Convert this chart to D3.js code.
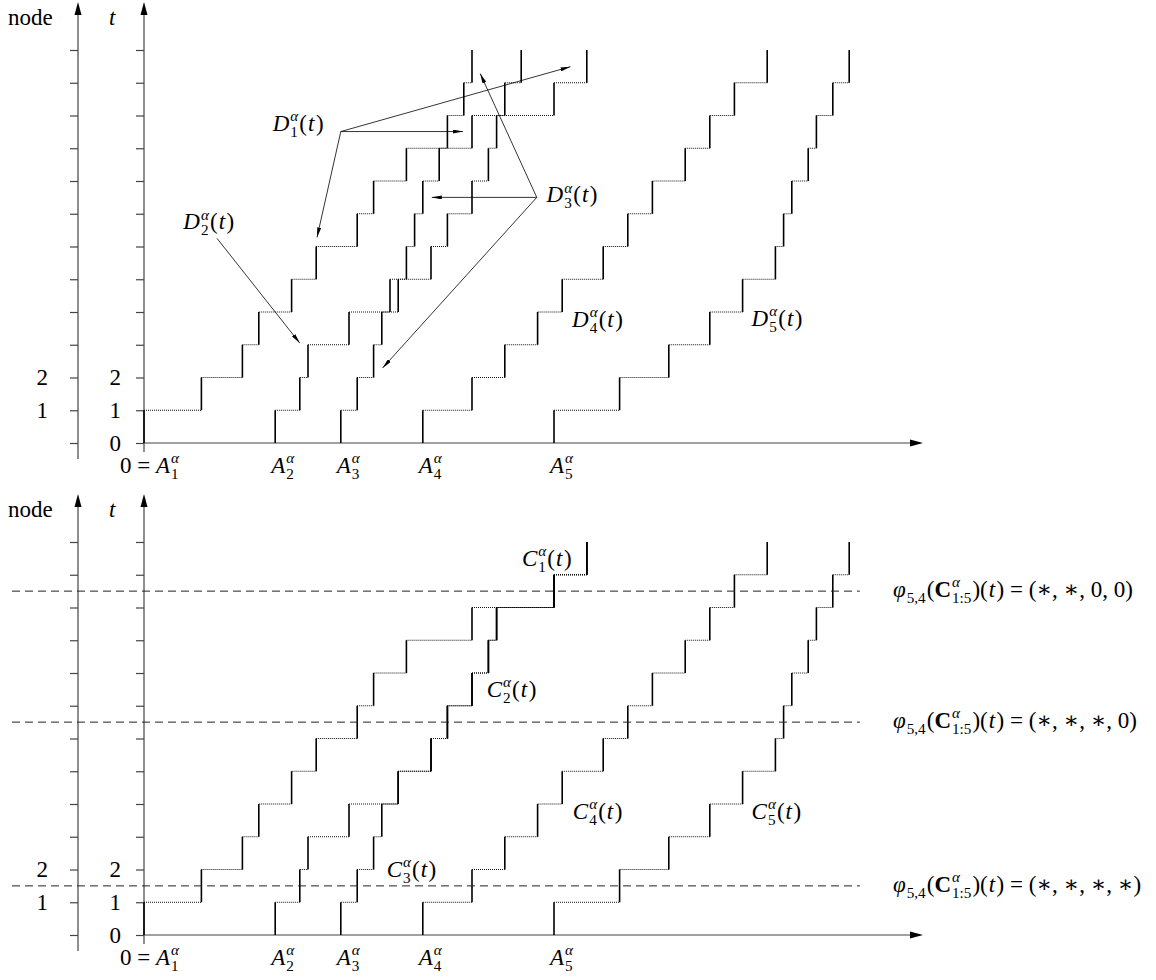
<!DOCTYPE html>
<html>
<head>
<meta charset="utf-8">
<script src="https://cdn.jsdelivr.net/npm/d3@7"></script>
<style>
  body { margin: 0; background: #fff; }
  text { font-family: "Liberation Serif", "DejaVu Serif", serif; fill: #000; white-space: pre; }
</style>
</head>
<body>
<svg id="chart" width="1156" height="980"></svg>
<script>
// Step times of each staircase: value k is where the step from level k to k+1 happens
const depD1 = [0, 7, 12, 14, 18, 21, 26, 28, 32, 40, 50, 54];
const depD2 = [16, 19, 20, 25, 31, 35, 37, 40, 42, 43, 44, 46];
const depD3 = [24, 26, 28, 29, 30, 32, 33, 34, 36, 37, 39, 40];
const depD4 = [34, 40, 44, 48, 51, 56, 59, 62, 66, 69, 72, 76];
const depD5 = [50, 58, 64, 69, 73, 77, 78, 79, 81, 82, 84, 86];

const depC1 = [0, 7, 12, 14, 18, 21, 26, 28, 32, 40, 50, 54];
const depC2 = [16, 19, 20, 25, 31, 35, 37, 40, 42, 43, 50, 54];
const depC3 = [24, 26, 28, 29, 31, 35, 37, 40, 42, 43, 50, 54];
const depC4 = [34, 40, 44, 48, 51, 56, 59, 62, 66, 69, 72, 76];
const depC5 = [50, 58, 64, 69, 73, 77, 78, 79, 81, 82, 84, 86];

const levels = d3.range(13);          // ticks 0..12
const tLabels = [0, 1, 2];
const nodeLabels = [1, 2];

// label anchors in data units (time u, level t)
const labelsD = [
  { i: '1', u: 15.7, t: 9.54 }, { i: '2', u: 4.8, t: 6.52 }, { i: '3', u: 49.1, t: 7.35 },
  { i: '4', u: 52.2, t: 3.54 }, { i: '5', u: 74.1, t: 3.57 }
];
const labelsC = [
  { i: '1', u: 46.1, t: 11.27 }, { i: '2', u: 41.8, t: 7.27 }, { i: '3', u: 29.6, t: 1.77 },
  { i: '4', u: 52.3, t: 3.54 }, { i: '5', u: 74.1, t: 3.54 }
];

// annotation arrows (from label anchor to the staircase)
const arrowsD = [
  { from: [24.0, 9.51], to: [21.1, 6.28] },
  { from: [24.0, 9.51], to: [38.9, 9.51] },
  { from: [24.0, 9.51], to: [52.0, 11.49] },
  { from: [8.9, 6.25], to: [19.0, 3.05] },
  { from: [47.9, 7.5], to: [35.1, 7.5] },
  { from: [47.9, 7.5], to: [41.0, 11.28] },
  { from: [47.9, 7.5], to: [29.1, 2.29] }
];

// threshold levels and their labels in the lower panel
const cutLevels = [10.5, 6.5, 1.5];
const cutTuples = ['(∗, ∗, 0, 0)', '(∗, ∗, ∗, 0)', '(∗, ∗, ∗, ∗)'];

const svg = d3.select('#chart');
const FS = 23;
const x = d3.scaleLinear().domain([0, 95]).range([144, 923]);
const nodeAxisX = 78;

svg.append('defs').append('marker')
  .attr('id', 'head')
  .attr('viewBox', '0 0 10 4')
  .attr('refX', 10).attr('refY', 2)
  .attr('markerWidth', 10).attr('markerHeight', 4)
  .attr('markerUnits', 'userSpaceOnUse')
  .attr('orient', 'auto')
  .append('path').attr('d', 'M0,0 L10,2 L0,4 Z').attr('fill', '#000');

// write a small piece of math: parts are plain runs, gaps or {sup, sub} pairs
const mathText = (g, x0, y0, parts, size = FS) => {
  let cx = x0;
  const small = size * 0.66;
  parts.forEach(p => {
    if (p.gap !== undefined) {
      cx += p.gap;
    } else if (p.sup !== undefined || p.sub !== undefined) {
      let w = 0;
      if (p.sup !== undefined) {
        const t = g.append('text').attr('x', cx + 1).attr('y', y0 - size * 0.42)
          .style('font-size', small + 'px').style('font-style', 'italic').text(p.sup);
        w = Math.max(w, t.node().getComputedTextLength());
      }
      if (p.sub !== undefined) {
        const t = g.append('text').attr('x', cx + 1).attr('y', y0 + size * 0.26)
          .style('font-size', small + 'px').text(p.sub);
        w = Math.max(w, t.node().getComputedTextLength());
      }
      cx += w + 2;
    } else {
      const t = g.append('text').attr('x', cx).attr('y', y0)
        .style('font-size', size + 'px')
        .style('font-style', p.it ? 'italic' : 'normal')
        .style('font-weight', p.bf ? 'bold' : 'normal')
        .text(p.s);
      cx += t.node().getComputedTextLength();
    }
  });
  return cx;
};

const fnLabel = (letter, i) => [
  { s: letter, it: true }, { sup: 'α', sub: i }, { s: '(' }, { gap: 1 },
  { s: 't', it: true }, { gap: 1.5 }, { s: ')' }
];

const drawPanel = (y0, series, labels, letter) => {
  const g = svg.append('g');
  const y = d3.scaleLinear().domain([0, 12]).range([y0, y0 - 393]);
  const top = y(12) - 48;

  // vertical axes
  [nodeAxisX, x(0)].forEach((ax, k) => {
    g.append('line')
      .attr('x1', ax).attr('x2', ax)
      .attr('y1', top + 4).attr('y2', y0 + (k === 0 ? 16 : 9))
      .attr('stroke', '#444').attr('stroke-width', 1.2);
    g.append('path')
      .attr('d', `M${ax},${top} L${ax - 3.5},${top + 13} L${ax + 3.5},${top + 13} Z`)
      .attr('fill', '#000');
  });

  const nodeAxis = d3.axisLeft(y).tickValues(levels).tickSize(8).tickPadding(22)
    .tickFormat(d => nodeLabels.includes(d) ? d : '');
  const tAxis = d3.axisLeft(y).tickValues(levels).tickSize(8).tickPadding(15)
    .tickFormat(d => tLabels.includes(d) ? d : '');

  [[nodeAxis, nodeAxisX], [tAxis, x(0)]].forEach(([ax, px]) => {
    const a = g.append('g').attr('transform', `translate(${px},0)`).call(ax);
    a.select('.domain').remove();
    a.selectAll('.tick line').attr('stroke', '#444').attr('stroke-width', 1.2);
    a.selectAll('.tick text')
      .style('font-family', '"Liberation Serif", serif')
      .style('font-size', FS + 'px').attr('fill', '#000');
  });

  mathText(g, 8, top + 23, [{ s: 'node' }]);
  mathText(g, 109, top + 23, [{ s: 't', it: true }]);

  // horizontal axis
  g.append('line')
    .attr('x1', x(0)).attr('x2', x(95) - 6)
    .attr('y1', y0).attr('y2', y0)
    .attr('stroke', '#444').attr('stroke-width', 1.2);
  g.append('path')
    .attr('d', `M${x(95)},${y0} L${x(95) - 13},${y0 - 3.5} L${x(95) - 13},${y0 + 3.5} Z`)
    .attr('fill', '#000');

  // arrival labels under the axis
  series.forEach((s, k) => {
    const parts = [{ s: 'A', it: true }, { sup: 'α', sub: String(k + 1) }];
    if (k === 0) {
      mathText(g, x(s[0]) - 24, y0 + 30, [{ s: '0 = ' }].concat(parts));
    } else {
      mathText(g, x(s[0]) - 4, y0 + 30, parts);
    }
  });

  // staircases: dotted horizontal runs, solid vertical steps
  const runs = series.flatMap(s => s.slice(1).map((v, k) => ({ a: s[k], b: v, t: k + 1 })));
  const steps = series.flatMap(s => s.map((v, k) => ({ v, t: k })));

  g.append('g').selectAll('line')
    .data(runs)
    .join('line')
    .attr('x1', d => x(d.a)).attr('x2', d => x(d.b))
    .attr('y1', d => y(d.t)).attr('y2', d => y(d.t))
    .attr('stroke', '#111').attr('stroke-width', 1)
    .attr('stroke-dasharray', '1,1');

  g.append('g').selectAll('line')
    .data(steps)
    .join('line')
    .attr('x1', d => x(d.v)).attr('x2', d => x(d.v))
    .attr('y1', d => y(d.t)).attr('y2', d => y(d.t + 1))
    .attr('stroke', '#000').attr('stroke-width', 1.6);

  labels.forEach(l => mathText(g, x(l.u), y(l.t), fnLabel(letter, l.i)));

  return { g, y };
};

// upper panel
const upper = drawPanel(443, [depD1, depD2, depD3, depD4, depD5], labelsD, 'D');
upper.g.append('g').selectAll('line')
  .data(arrowsD)
  .join('line')
  .attr('x1', d => x(d.from[0])).attr('y1', d => upper.y(d.from[1]))
  .attr('x2', d => x(d.to[0])).attr('y2', d => upper.y(d.to[1]))
  .attr('stroke', '#000').attr('stroke-width', 0.8)
  .attr('marker-end', 'url(#head)');

// lower panel
const lower = drawPanel(935, [depC1, depC2, depC3, depC4, depC5], labelsC, 'C');
lower.g.append('g').selectAll('line')
  .data(cutLevels)
  .join('line')
  .attr('x1', 12).attr('x2', x(87.3))
  .attr('y1', d => lower.y(d)).attr('y2', d => lower.y(d))
  .attr('stroke', '#222').attr('stroke-width', 1)
  .attr('stroke-dasharray', '8,5');

cutLevels.forEach((lv, k) => {
  mathText(lower.g, 893, lower.y(lv) + 6, [
    { s: 'φ', it: true }, { sub: '5,4' }, { s: '(' }, { s: 'C', bf: true },
    { sup: 'α', sub: '1:5' }, { s: ')(' }, { gap: 1 }, { s: 't', it: true }, { gap: 1.5 },
    { s: ') = ' + cutTuples[k] }
  ]);
});
</script>
</body>
</html>
